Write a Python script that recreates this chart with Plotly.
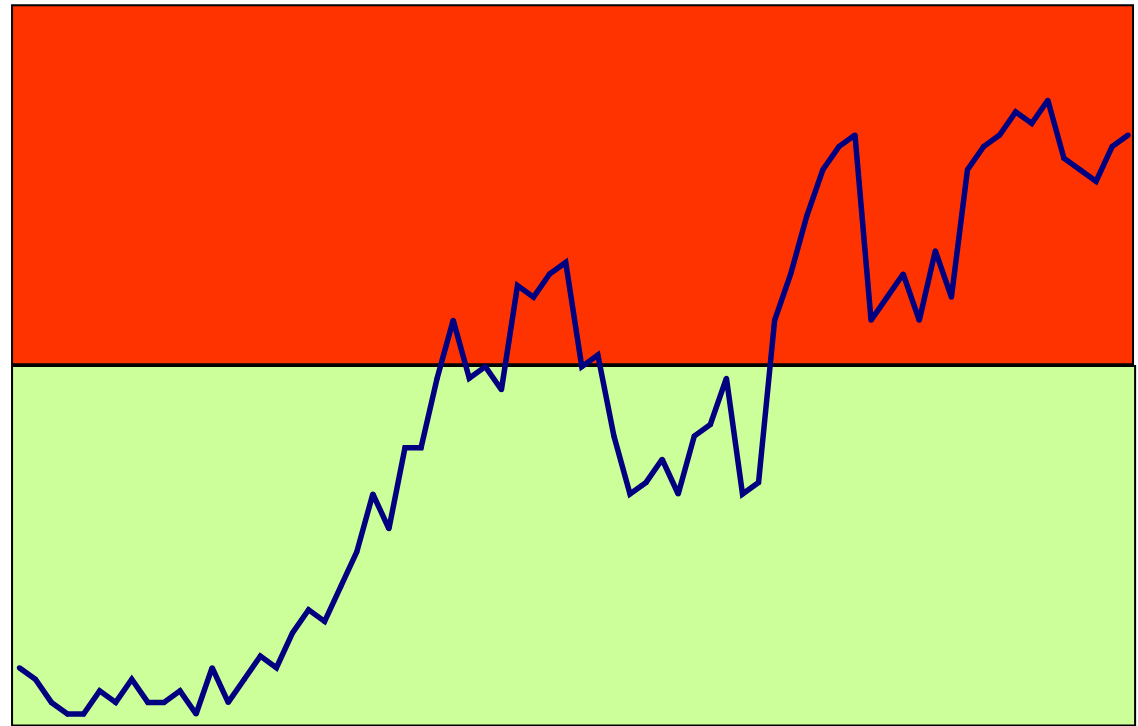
import plotly.graph_objects as go

# Series values (integer levels)
values = [5, 4, 2, 1, 1, 3, 2, 4, 2, 2,
          3, 1, 5, 2, 4, 6, 5, 8, 10, 9,
          12, 15, 20, 17, 24, 24, 30, 35, 30, 31,
          29, 38, 37, 39, 40, 31, 32, 25, 20, 21,
          23, 20, 25, 26, 30, 20, 21, 35, 39, 44,
          48, 50, 51, 35, 37, 39, 35, 41, 37, 48,
          50, 51, 53, 52, 54, 49, 48, 47, 50, 51]
periods = list(range(len(values)))

# Background bands (lower green zone, upper red zone)
band_green = (0.0, 31.05)
band_red = (31.2, 62.2)
band_x = (-0.45, 69.3, 69.43)

fig = go.Figure()
fig.add_trace(go.Scatter(
    x=periods, y=values, mode="lines+markers",
    line=dict(color="#000080", width=5.5),
    marker=dict(color="#000080", size=5, symbol="circle"),
    showlegend=False, hoverinfo="skip",
))

fig.add_shape(type="rect", xref="x", yref="y",
              x0=band_x[0], x1=band_x[1], y0=band_red[0], y1=band_red[1],
              fillcolor="#FF3300", line=dict(color="black", width=2), layer="below")
fig.add_shape(type="rect", xref="x", yref="y",
              x0=band_x[0], x1=band_x[2], y0=band_green[0], y1=band_green[1],
              fillcolor="#CCFF99", line=dict(color="black", width=2), layer="below")

fig.update_layout(
    width=1138, height=726,
    margin=dict(l=0, r=0, t=0, b=0),
    paper_bgcolor="white", plot_bgcolor="white",
    xaxis=dict(range=[-1.2, 69.61], visible=False, fixedrange=True),
    yaxis=dict(range=[-0.035, 62.66], visible=False, fixedrange=True),
)

fig.write_html("out.html", config={"displayModeBar": False})
